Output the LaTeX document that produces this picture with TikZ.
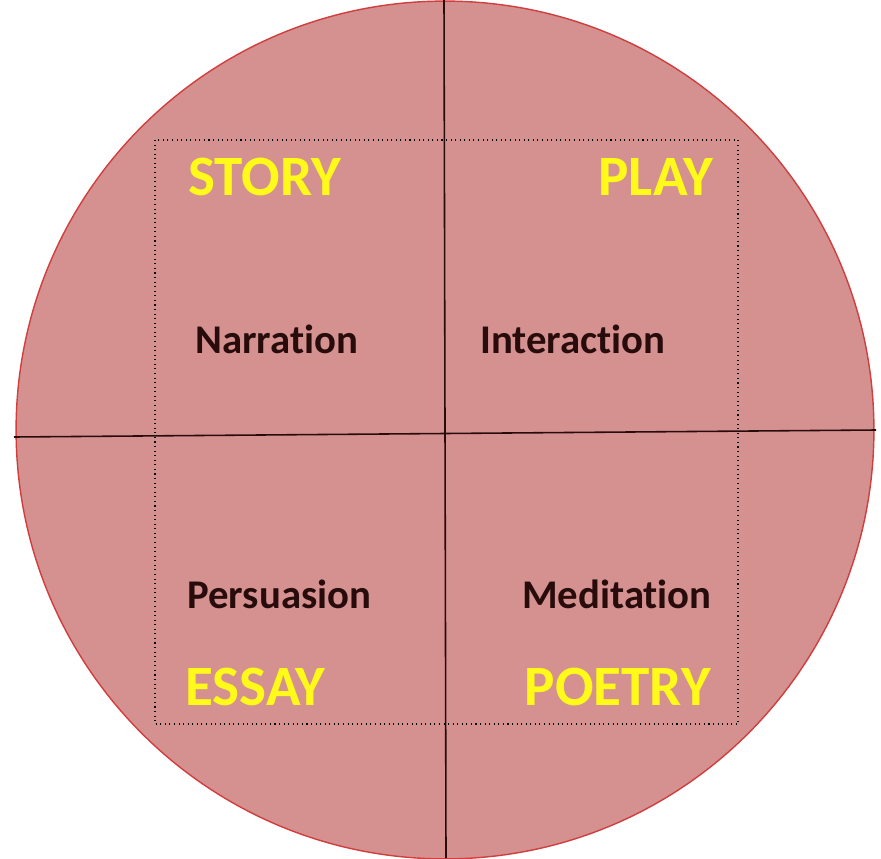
\documentclass[tikz,border=0pt]{standalone}
\usepackage{fontspec}
\setmainfont{Carlito}[Ligatures={NoCommon}]
\usetikzlibrary{positioning}
\definecolor{rose}{RGB}{213,144,144}
\definecolor{crimson}{RGB}{208,62,62}
\definecolor{lemon}{RGB}{255,250,25}
\definecolor{ink}{RGB}{40,12,12}

\tikzset{
  genre/.style={text=lemon,font=\bfseries\fontsize{32.5}{33}\selectfont,inner sep=0pt},
  mode/.style={text=ink,font=\bfseries\fontsize{23.2}{24}\selectfont,inner sep=0pt}
}

\begin{document}
\begin{tikzpicture}[x=0.02cm,y=-0.02cm]
    \useasboundingbox (0,0) rectangle (881,858);
    \fill[rose,draw=crimson,line width=0.8pt] (445,430) circle[radius=8.58cm];
    \draw[ink,line width=0.9pt] (444,0) -- (446,858);
    \draw[ink,line width=0.9pt] (14,437) -- (876,430);
    \draw[black,dotted,line width=0.6pt] (155,140) rectangle (738,724);
    % genres in the corners of the box
    \foreach \n/\x/\y/\a/\t in {
      story/188/195/base west/STORY,
      play/713/195/base east/PLAY,
      essay/185/705/base west/ESSAY,
      poetry/711/705/base east/POETRY}
    {
      \node[genre,anchor=\a] (\n) at (\x,\y) {\t};
    }
    % modes
    \foreach \n/\x/\y/\a/\t in {
      narration/195/353/base west/Narration,
      interaction/480/353/base west/Interaction,
      persuasion/187/608/base west/Persuasion,
      meditation/712/608/base east/Meditation}
    {
      \node[mode,anchor=\a] (\n) at (\x,\y) {\t};
    }
\end{tikzpicture}
\end{document}
